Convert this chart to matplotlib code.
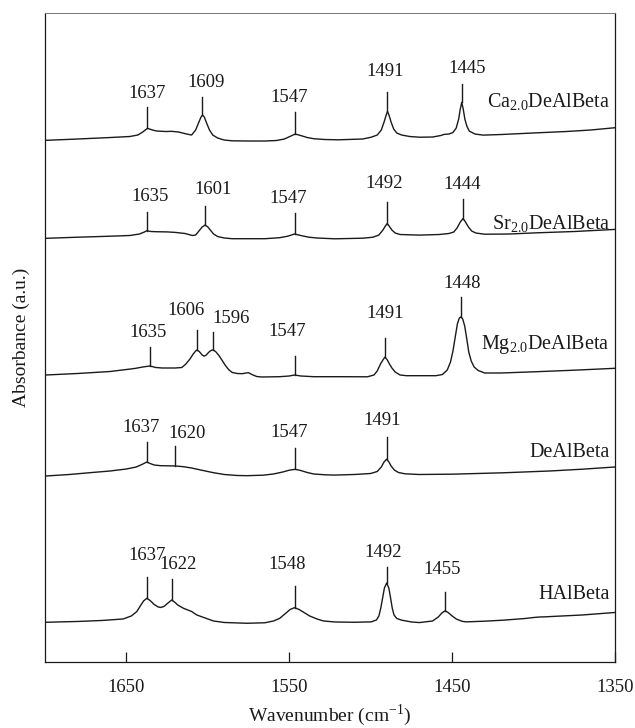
import matplotlib
matplotlib.use('Agg')
import matplotlib.pyplot as plt
import numpy as np

plt.rcParams['font.family'] = ['Liberation Serif', 'DejaVu Serif']
plt.rcParams['mathtext.fontset'] = 'custom'
plt.rcParams['mathtext.rm'] = 'Liberation Serif'

# spectra (wavenumber, stacked absorbance in a.u.)
ca_wn = [1699.4, 1680, 1660, 1648, 1643, 1640, 1637.1, 1634, 1631.4, 1626,
         1622.2, 1618, 1613, 1610, 1607.5, 1605.5, 1604.2, 1603.3, 1602.2, 1600.8,
         1599, 1597, 1594, 1590, 1585, 1574, 1565, 1558, 1553, 1549,
         1546.4, 1543, 1539, 1535, 1528, 1520, 1505, 1499.7, 1496, 1493.5,
         1491.8, 1490.5, 1489.7, 1488.8, 1487.5, 1485.9, 1484, 1481, 1476, 1470,
         1462, 1457, 1455, 1452, 1449.5, 1447.5, 1446, 1445, 1444.1, 1443.2,
         1442.2, 1441, 1439.5, 1436, 1431, 1420, 1398, 1380, 1365, 1350]
ca_abs = [5.257, 5.270, 5.285, 5.295, 5.31, 5.34, 5.377, 5.36, 5.35, 5.345,
          5.347, 5.34, 5.32, 5.31, 5.36, 5.44, 5.49, 5.51, 5.49, 5.43,
          5.36, 5.31, 5.28, 5.26, 5.252, 5.25, 5.25, 5.255, 5.27, 5.30,
          5.32, 5.305, 5.285, 5.273, 5.265, 5.262, 5.27, 5.288, 5.31, 5.36,
          5.44, 5.51, 5.546, 5.51, 5.44, 5.37, 5.33, 5.31, 5.295, 5.288,
          5.29, 5.305, 5.316, 5.32, 5.335, 5.38, 5.47, 5.57, 5.637, 5.57,
          5.47, 5.40, 5.35, 5.32, 5.309, 5.315, 5.332, 5.345, 5.36, 5.383]

sr_wn = [1699.4, 1680, 1660, 1648, 1642, 1639, 1637.5, 1635, 1632, 1625,
         1620, 1614, 1609.5, 1607.5, 1605.5, 1603.5, 1601.7, 1600, 1598.5, 1596.5,
         1594, 1590, 1585, 1565, 1556, 1551, 1546.8, 1543, 1538, 1533,
         1522, 1505, 1498.6, 1495, 1492.5, 1491, 1489.9, 1488.7, 1487, 1485,
         1482, 1470, 1458, 1452, 1449, 1447, 1445, 1443.3, 1441.8, 1440,
         1438, 1435.5, 1430, 1415, 1398, 1375, 1350]
sr_abs = [4.277, 4.288, 4.298, 4.305, 4.32, 4.34, 4.353, 4.345, 4.343, 4.341,
          4.336, 4.325, 4.305, 4.31, 4.35, 4.39, 4.41, 4.39, 4.36, 4.32,
          4.295, 4.28, 4.273, 4.273, 4.283, 4.298, 4.32, 4.305, 4.288, 4.28,
          4.272, 4.278, 4.288, 4.31, 4.36, 4.40, 4.424, 4.40, 4.36, 4.33,
          4.315, 4.309, 4.315, 4.325, 4.34, 4.38, 4.44, 4.475, 4.44, 4.39,
          4.35, 4.33, 4.318, 4.32, 4.332, 4.345, 4.366]

mg_wn = [1699.4, 1680, 1660, 1645, 1640, 1635.5, 1632, 1628, 1620, 1616,
         1613.5, 1611, 1609, 1607.5, 1606.8, 1605.3, 1603.5, 1602.3, 1601, 1599,
         1597.5, 1596.5, 1595, 1593, 1591, 1589, 1587, 1585, 1582, 1579,
         1576.5, 1575, 1573, 1570, 1567, 1556, 1550, 1546.8, 1543, 1535,
         1519, 1502, 1498, 1496, 1494, 1492.5, 1491.3, 1490, 1488.5, 1487,
         1485, 1482, 1478, 1460, 1456, 1453, 1451, 1449.5, 1448, 1446.8,
         1445.6, 1444.6, 1443.5, 1442.3, 1441, 1439.8, 1438.3, 1436.5, 1434, 1430,
         1420, 1398, 1375, 1350]
mg_abs = [2.910, 2.925, 2.945, 2.975, 2.99, 3.000, 2.985, 2.98, 2.98, 2.985,
          3.02, 3.07, 3.12, 3.15, 3.16, 3.145, 3.11, 3.098, 3.11, 3.145,
          3.16, 3.16, 3.14, 3.10, 3.05, 3.00, 2.96, 2.935, 2.925, 2.923,
          2.93, 2.933, 2.915, 2.895, 2.89, 2.893, 2.90, 2.91, 2.90, 2.893,
          2.893, 2.892, 2.91, 2.95, 3.02, 3.06, 3.089, 3.065, 3.02, 2.98,
          2.94, 2.91, 2.903, 2.903, 2.915, 2.96, 3.04, 3.15, 3.30, 3.42,
          3.48, 3.491, 3.47, 3.40, 3.27, 3.14, 3.05, 2.99, 2.955, 2.93,
          2.93, 2.943, 2.958, 2.977]

deal_wn = [1699.4, 1685, 1672.4, 1660, 1650, 1644, 1640.5, 1637.5, 1635.5, 1633,
           1629, 1625, 1620.1, 1615, 1610, 1603, 1596.6, 1590, 1582, 1576,
           1566, 1559.7, 1554, 1550, 1546.4, 1543, 1539, 1535, 1528, 1522.5,
           1510, 1500, 1496, 1493.5, 1491.8, 1490.3, 1489, 1487.5, 1485.5, 1483,
           1479, 1470.6, 1450, 1418.6, 1390, 1370, 1350]
deal_abs = [1.900, 1.915, 1.933, 1.95, 1.97, 1.99, 2.015, 2.040, 2.025, 2.01,
            2.003, 2.002, 2.000, 1.993, 1.98, 1.955, 1.933, 1.915, 1.905, 1.903,
            1.908, 1.92, 1.94, 1.958, 1.967, 1.955, 1.935, 1.92, 1.912, 1.909,
            1.915, 1.925, 1.945, 1.99, 2.04, 2.068, 2.045, 2.0, 1.96, 1.935,
            1.922, 1.915, 1.918, 1.932, 1.95, 1.968, 1.990]

hal_wn = [1699.4, 1680, 1665, 1652, 1647, 1643.7, 1641.5, 1639.5, 1637.5, 1635.5,
          1633, 1630.5, 1629, 1627, 1624.5, 1622.2, 1620.5, 1618.5, 1615, 1610,
          1606.8, 1600, 1596.6, 1590, 1576, 1565, 1559.7, 1556, 1552, 1549.5,
          1546.8, 1544, 1541, 1537.5, 1533, 1529, 1522, 1510, 1499.7, 1496.5,
          1495, 1493.8, 1492.7, 1491.6, 1490.2, 1488.9, 1487.8, 1486.8, 1485.7, 1484,
          1481, 1475, 1470, 1462, 1458.5, 1456.3, 1454.3, 1452.5, 1450, 1447.5,
          1444, 1441.4, 1430, 1418.6, 1405, 1399.8, 1396, 1393.6, 1370, 1350]
hal_abs = [0.437, 0.445, 0.455, 0.47, 0.50, 0.543, 0.60, 0.65, 0.677, 0.655,
           0.615, 0.59, 0.585, 0.595, 0.63, 0.66, 0.64, 0.61, 0.577, 0.545,
           0.51, 0.47, 0.45, 0.435, 0.427, 0.432, 0.45, 0.475, 0.53, 0.565,
           0.583, 0.565, 0.535, 0.50, 0.47, 0.45, 0.44, 0.437, 0.441, 0.46,
           0.50, 0.58, 0.68, 0.78, 0.83, 0.78, 0.68, 0.58, 0.51, 0.475,
           0.458, 0.44, 0.434, 0.45, 0.49, 0.53, 0.552, 0.535, 0.50, 0.47,
           0.447, 0.441, 0.448, 0.458, 0.475, 0.485, 0.49, 0.491, 0.51, 0.535]

sample_names = ['Ca$_{\\mathrm{2.0}}$DeAlBeta', 'Sr$_{\\mathrm{2.0}}$DeAlBeta',
                'Mg$_{\\mathrm{2.0}}$DeAlBeta', 'DeAlBeta', 'HAlBeta']
name_y = [5.64, 4.417, 3.214, 2.135, 0.711]

# peak marks: (label, line wavenumber, line top, label wavenumber, label height)
ca_peaks = [('1637', 1637.1, 5.593, 1637.3, 5.73), ('1609', 1603.3, 5.687, 1601.3, 5.833),
            ('1547', 1546.4, 5.54, 1549.9, 5.683), ('1491', 1489.7, 5.739, 1491.1, 5.948),
            ('1445', 1444.1, 5.823, 1440.7, 5.975)]
sr_peaks = [('1635', 1637.5, 4.543, 1635.5, 4.693), ('1601', 1601.7, 4.60, 1596.6, 4.767),
            ('1547', 1546.8, 4.533, 1550.5, 4.677), ('1492', 1489.9, 4.637, 1492.0, 4.83),
            ('1444', 1443.3, 4.671, 1443.9, 4.816)]
mg_peaks = [('1635', 1635.5, 3.193, 1636.5, 3.333), ('1606', 1606.8, 3.36, 1613.5, 3.56),
            ('1596', 1596.9, 3.343, 1585.7, 3.477), ('1547', 1546.8, 3.103, 1551.5, 3.35),
            ('1491', 1491.3, 3.282, 1490.9, 3.525), ('1448', 1444.6, 3.695, 1443.9, 3.83)]
deal_peaks = [('1637', 1637.5, 2.243, 1641.2, 2.387), ('1620', 1620.1, 2.203, 1612.9, 2.327),
              ('1547', 1546.4, 2.183, 1549.9, 2.337), ('1491', 1490.3, 2.288, 1493.0, 2.457)]
hal_peaks = [('1637', 1637.5, 0.887, 1637.3, 1.10), ('1622', 1622.2, 0.867, 1618.5, 1.01),
             ('1548', 1546.8, 0.80, 1551.5, 1.01), ('1492', 1490.2, 0.99, 1492.3, 1.13),
             ('1455', 1454.3, 0.739, 1456.1, 0.965)]

x_ticks = [1650, 1550, 1450, 1350]

spectra = [(ca_wn, ca_abs, ca_peaks), (sr_wn, sr_abs, sr_peaks), (mg_wn, mg_abs, mg_peaks),
           (deal_wn, deal_abs, deal_peaks), (hal_wn, hal_abs, hal_peaks)]

fig = plt.figure(figsize=(6.35, 7.28), dpi=100)
ax = fig.add_axes([0.0709, 0.0907, 0.8976, 0.8914])

ink = '#1a1a1a'
for (wn, ab, peaks), name, ny in zip(spectra, sample_names, name_y):
    ax.plot(wn, ab, color=ink, lw=1.0)
    wn_r = np.array(wn)[::-1]
    ab_r = np.array(ab)[::-1]
    for lab, xl, ytop, xt, yt in peaks:
        ybot = np.interp(xl, wn_r, ab_r)
        ax.plot([xl, xl], [ybot, ytop], color=ink, lw=1.0)
        ax.text(xt, yt, lab, ha='center', va='center', fontsize=13.5, color=ink)
    ax.text(1353.1, ny, name, ha='right', va='center', fontsize=14.5, color=ink)

ax.set_xlim(1700, 1350)
ax.set_ylim(0.04, 6.53)
ax.set_xticks(x_ticks)
ax.set_yticks([])
ax.tick_params(axis='x', direction='in', length=7, width=0.9, pad=12, labelsize=13.5,
               colors=ink)
for s in ax.spines.values():
    s.set_linewidth(0.9)
    s.set_color(ink)
ax.spines['top'].set_color('#777777')
ax.spines['top'].set_linewidth(0.7)

ax.set_xlabel('Wavenumber (cm$^{-1}$)', fontsize=14, labelpad=5, color=ink)
ax.set_ylabel('Absorbance (a.u.)', fontsize=14, labelpad=11, color=ink)

fig.savefig('out.png', dpi=100)
